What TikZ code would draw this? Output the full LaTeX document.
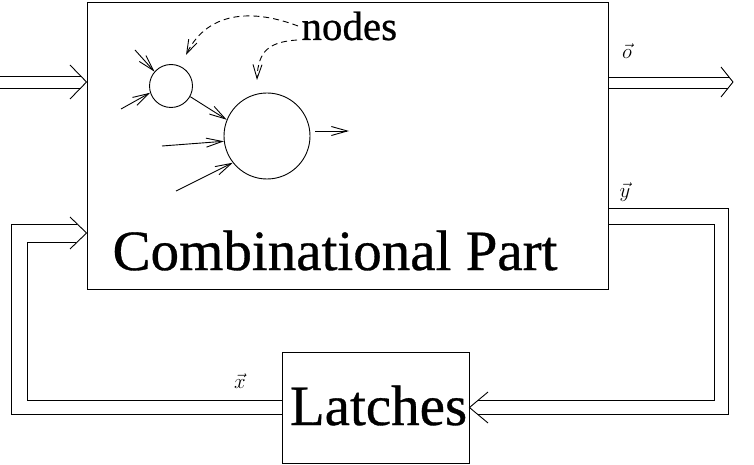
\documentclass[tikz,border=0pt]{standalone}
\usepackage{fontspec}
\setmainfont{Liberation Serif}
\newfontfamily\heavyserif{Liberation Serif}[FakeBold=0.6]
\usetikzlibrary{arrows.meta,calc}
\begin{document}
\begin{tikzpicture}[x=1pt,y=-1pt,line width=0.9pt,
  blockbox/.style={draw,rectangle,inner sep=0pt},
  bigtext/.style={font=\heavyserif\fontsize{57}{60}\selectfont,inner sep=0pt},
  midtext/.style={font=\heavyserif\fontsize{41}{44}\selectfont,inner sep=0pt},
  vlabel/.style={font=\fontsize{22}{22}\selectfont,inner sep=0pt},
  circ/.style={draw,circle,inner sep=0pt},
  sarrow/.style={-{Straight Barb[length=16pt,width=9pt,line width=0.9pt]}},
  darrow/.style={dashed,dash pattern=on 6pt off 4pt,-{Straight Barb[length=14pt,width=9pt,line width=0.9pt]}}]
\useasboundingbox (0,0) rectangle (754,465);
% blocks
\node[blockbox,minimum width=521pt,minimum height=287pt] (comb) at (347.5,145.5) {};
\node[bigtext,anchor=base] (combtxt) at (335,270) {Combinational Part};
\node[blockbox,minimum width=187pt,minimum height=111pt] (latch) at (375.5,407.5) {};
\node[bigtext,anchor=base] (latchtxt) at (378.5,425) {Latches};
% circles
\node[circ,minimum size=43pt] (small) at (171,86) {};
\node[circ,minimum size=86pt] (big) at (267,136) {};
% label nodes
\node[midtext,anchor=base west] (nodes) at (301,40) {nodes};
\node[vlabel] (lo) at (627,51) {$\vec{o}$};
\node[vlabel] (ly) at (625,192) {$\vec{y}$};
\node[vlabel] (lx) at (240,381) {$\vec{x}$};
% free ends
\coordinate (a1) at (135,50);
\coordinate (a2) at (121,109);
\coordinate (a4) at (162,146);
\coordinate (a5) at (176,191);
\coordinate (a6s) at (315,131);
\coordinate (a6e) at (349,131);
\coordinate (d1s) at (298,26);
\coordinate (d1e) at (186,55);
\coordinate (d2s) at (297,40);
\coordinate (d2e) at (257,80);
% arrows into / between circles
\draw[sarrow] (a1) -- (small.139);
\draw[sarrow] (a2) -- (small.198);
\draw[sarrow] (small.-29) -- (big.158);
\draw[sarrow] (a4) -- (big.187);
\draw[sarrow] (a5) -- (big.218);
\draw[sarrow] (a6s) -- (a6e);
% dashed pointers from the label
\draw[darrow] (d1s) .. controls (245,6) and (205,16) .. (d1e);
\draw[darrow] (d2s) .. controls (270,42) and (258,50) .. (d2e);
% input double arrow
\draw (0,76) -- (81,76);
\draw (0,88) -- (81,88);
\draw (70,65) -- (comb.west |- 0,82) -- (70,99);
% output double arrow
\draw (comb.east |- 0,77) -- (729,77);
\draw (comb.east |- 0,88) -- (728,88);
\draw (721,67) -- (733,82) -- (721,97);
% feedback y -> latches
\draw (comb.east |- 0,208) -- (728,208) -- (728,414) -- (478,414);
\draw (comb.east |- 0,224) -- (714,224) -- (714,400) -- (478,400);
\draw (488,392) -- (latch.east) -- (488,423);
% feedback latches -> x
\draw (latch.west |- 0,400) -- (27,400) -- (27,242) -- (76,242);
\draw (latch.west |- 0,414) -- (11,414) -- (11,224) -- (77,224);
\draw (70,217) -- (comb.west |- 0,233) -- (70,249);
\end{tikzpicture}
\end{document}
